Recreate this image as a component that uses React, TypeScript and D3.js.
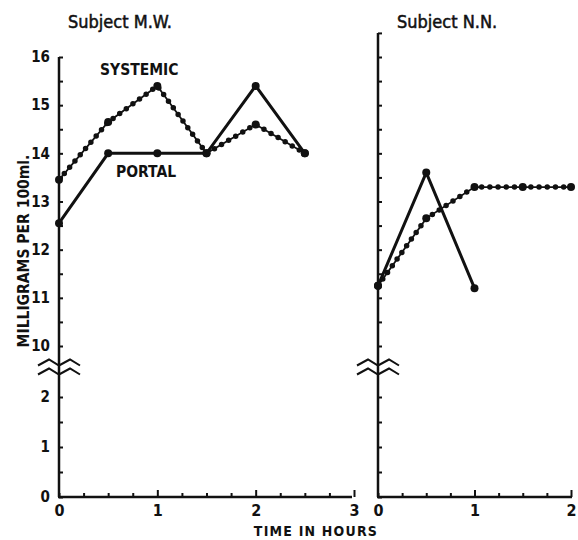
import React, { useEffect, useRef } from 'react';
import * as d3 from 'd3';

// Subject M.W.
const mwHours = [0, 0.5, 1, 1.5, 2, 2.5];
const mwSystemic = [13.45, 14.65, 15.4, 14.0, 14.6, 14.0];
const mwPortal = [12.55, 14.0, 14.0, 14.0, 15.4, 14.0];

// Subject N.N.
const nnSystemicHours = [0, 0.5, 1, 1.5, 2];
const nnSystemic = [11.25, 12.65, 13.3, 13.3, 13.3];
const nnPortalHours = [0, 0.5, 1];
const nnPortal = [11.25, 13.6, 11.2];

const yLabels = [0, 1, 2, 10, 11, 12, 13, 14, 15, 16];
const yLowTicks = [0, 0.5, 1, 1.5, 2];
const yHighTicks = [10, 10.5, 11, 11.5, 12, 12.5, 13, 13.5, 14, 14.5, 15, 15.5, 16];

const FONT = '"DejaVu Sans Condensed", "Liberation Sans Narrow", "DejaVu Sans", sans-serif';

const App: React.FC = () => {
    const svgRef = useRef<SVGSVGElement>(null);

    useEffect(() => {
        if (!svgRef.current) return;
        const svg = d3.select(svgRef.current);
        svg.selectAll("*").remove();

        // broken y axis: 0-2 below the break, 10-16 above it
        const y = d3.scaleLinear()
            .domain([0, 2, 10, 16])
            .range([497, 397, 346, 57]);
        const breakY = (y(2) + y(10)) / 2;

        const panels = [
            {
                title: "Subject M.W.", titleX: 68,
                x: d3.scaleLinear().domain([0, 3]).range([59, 354]),
                xTicks: d3.range(0, 3.01, 0.25), xEnd: 352,
                yTop: 16, labels: true,
                systemic: mwHours.map((h, i) => [h, mwSystemic[i]]),
                portal: mwHours.map((h, i) => [h, mwPortal[i]]),
            },
            {
                title: "Subject N.N.", titleX: 397,
                x: d3.scaleLinear().domain([0, 2]).range([378, 571]),
                xTicks: d3.range(0, 2.01, 0.25), xEnd: 572,
                yTop: 16.5, labels: false,
                systemic: nnSystemicHours.map((h, i) => [h, nnSystemic[i]]),
                portal: nnPortalHours.map((h, i) => [h, nnPortal[i]]),
            },
        ];

        panels.forEach(p => {
            const g = svg.append("g");
            const x0 = p.x(0);
            const yTicks = [...yLowTicks, ...yHighTicks, ...(p.yTop > 16 ? [16.5] : [])];

            g.append("text")
                .attr("x", p.titleX).attr("y", 28)
                .attr("font-family", FONT).attr("font-size", 18)
                .attr("fill", "#111").attr("stroke", "#111").attr("stroke-width", 0.5)
                .text(p.title);

            // axis lines
            g.append("line")
                .attr("x1", x0).attr("x2", x0)
                .attr("y1", y(p.yTop)).attr("y2", y(0))
                .attr("stroke", "#111").attr("stroke-width", 2.5);
            g.append("line")
                .attr("x1", x0 - 1).attr("x2", p.xEnd)
                .attr("y1", y(0)).attr("y2", y(0))
                .attr("stroke", "#111").attr("stroke-width", 2.5);

            // y ticks (pointing right), labels on the left
            const yAxis = d3.axisLeft(y)
                .tickValues(yTicks)
                .tickSize(-4)
                .tickPadding(9)
                .tickFormat(d => (p.labels && yLabels.includes(+d) ? `${d}` : ""));
            const ya = g.append("g")
                .attr("transform", `translate(${x0},0)`)
                .call(yAxis);
            ya.select(".domain").remove();
            ya.selectAll("line").attr("stroke", "#111").attr("stroke-width", 2);
            ya.selectAll("text")
                .attr("font-family", FONT).attr("font-weight", "bold")
                .attr("font-size", 15).attr("fill", "#111");

            // x ticks (pointing up), labels below
            const xAxis = d3.axisBottom(p.x)
                .tickValues(p.xTicks)
                .tickSize(-4)
                .tickPadding(8)
                .tickFormat(d => (Number.isInteger(+d) ? `${d}` : ""));
            const xa = g.append("g")
                .attr("transform", `translate(0,${y(0)})`)
                .call(xAxis);
            xa.select(".domain").remove();
            xa.selectAll("line").attr("stroke", "#111").attr("stroke-width", 2);
            xa.selectAll<SVGLineElement, number>(".tick line")
                .filter(d => Number.isInteger(d) && d > 0)
                .attr("y2", -7);
            xa.selectAll("text")
                .attr("font-family", FONT).attr("font-weight", "bold")
                .attr("font-size", 16).attr("fill", "#111");

            // axis break
            const wave = (cy: number) =>
                `M${x0 - 21},${cy + 3} L${x0 - 10},${cy - 3} L${x0},${cy + 3} L${x0 + 11},${cy - 3} L${x0 + 21},${cy + 3}`;
            [breakY - 9, breakY].forEach(cy => {
                g.append("path")
                    .attr("d", wave(cy))
                    .attr("fill", "none").attr("stroke", "#111").attr("stroke-width", 2);
            });

            const line = d3.line<number[]>()
                .x(d => p.x(d[0]))
                .y(d => y(d[1]));

            // portal: heavy solid line
            g.append("path")
                .datum(p.portal)
                .attr("d", line)
                .attr("fill", "none").attr("stroke", "#111")
                .attr("stroke-width", 3).attr("stroke-linejoin", "miter");

            // systemic: thin line strung with dots
            g.append("path")
                .datum(p.systemic)
                .attr("d", line)
                .attr("fill", "none").attr("stroke", "#111").attr("stroke-width", 1.8);
            g.append("path")
                .datum(p.systemic)
                .attr("d", line)
                .attr("fill", "none").attr("stroke", "#111")
                .attr("stroke-width", 5.5).attr("stroke-linecap", "round")
                .attr("stroke-dasharray", "0 8.2");

            g.selectAll(null)
                .data([...p.systemic, ...p.portal])
                .join("circle")
                .attr("cx", d => p.x(d[0]))
                .attr("cy", d => y(d[1]))
                .attr("r", 4)
                .attr("fill", "#111");
        });

        // series labels
        svg.append("text")
            .attr("x", 100).attr("y", 75)
            .attr("font-family", FONT).attr("font-weight", "bold")
            .attr("font-size", 15.5).attr("fill", "#111")
            .text("SYSTEMIC");
        svg.append("text")
            .attr("x", 116).attr("y", 177)
            .attr("font-family", FONT).attr("font-weight", "bold")
            .attr("font-size", 15.5).attr("fill", "#111")
            .text("PORTAL");

        // axis titles
        svg.append("text")
            .attr("transform", "translate(29,251) rotate(-90)")
            .attr("text-anchor", "middle")
            .attr("font-family", FONT).attr("font-weight", "bold")
            .attr("font-size", 15.5).attr("fill", "#111")
            .text("MILLIGRAMS PER 100ml.");
        svg.append("text")
            .attr("x", 316).attr("y", 536)
            .attr("text-anchor", "middle")
            .attr("font-family", FONT).attr("font-weight", "bold")
            .attr("font-size", 14).attr("letter-spacing", 1.2).attr("fill", "#111")
            .text("TIME IN HOURS");
    }, []);

    return (
        <svg
            ref={svgRef}
            width={578}
            height={540}
            style={{ position: 'absolute', left: 0, top: 0, background: '#fff' }}
        />
    );
};

export default App;
